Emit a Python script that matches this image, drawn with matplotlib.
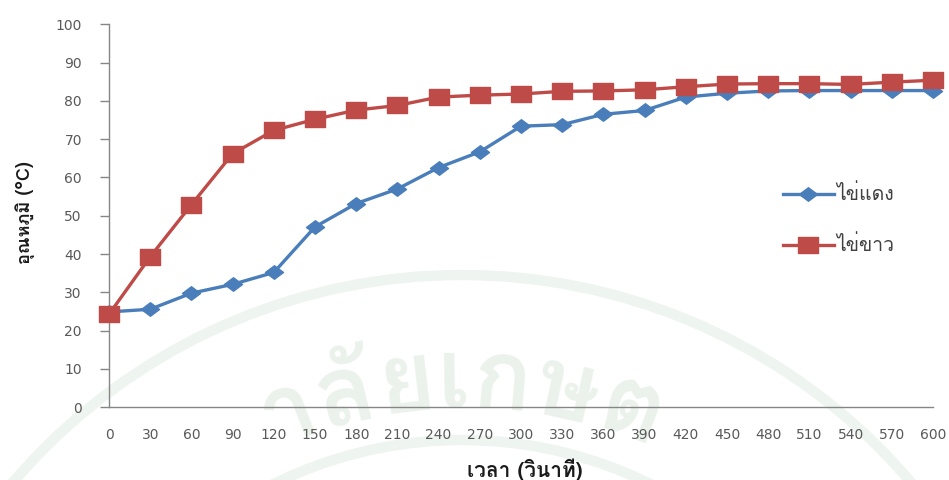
import matplotlib
matplotlib.use("Agg")
import matplotlib.pyplot as plt
from matplotlib import font_manager
from matplotlib.ft2font import FT2Font
from matplotlib.path import Path
from matplotlib.patches import Circle
import numpy as np

# Heating time (seconds) and core temperature (°C) of yolk and white
time_s = [0, 30, 60, 90, 120, 150, 180, 210, 240, 270, 300,
          330, 360, 390, 420, 450, 480, 510, 540, 570, 600]
yolk_temp = [24.9, 25.6, 29.8, 32.1, 35.2, 47.1, 53.2, 57.0, 62.6, 66.7, 73.4,
             73.8, 76.5, 77.5, 81.0, 82.0, 82.6, 82.7, 82.7, 82.7, 82.7]
white_temp = [24.3, 39.3, 52.9, 66.2, 72.3, 75.2, 77.6, 78.8, 81.0, 81.5, 81.8,
              82.5, 82.6, 82.9, 83.7, 84.4, 84.5, 84.5, 84.3, 84.9, 85.4]
x_tick_labels = [str(t) for t in time_s]
y_ticks = list(range(0, 101, 10))

series_names = ["ไข่แดง", "ไข่ขาว"]
x_title = "เวลา (วินาที)"
y_title = "อุณหภูมิ (°C)"

# background seal text, split into grapheme clusters
seal_clusters = ["ม", "ห", "า", "วิ", "ท", "ย", "า", "ลั", "ย", "เ", "ก",
                 "ษ", "ต", "ร", "ศ", "า", "ส", "ต", "ร์"]


def find_thai_font(bold=False):
    """Return the path of an installed font that has Thai glyphs."""
    found = []
    for fe in font_manager.fontManager.ttflist:
        try:
            ft = FT2Font(fe.fname)
            if ft.get_char_index(0x0E44) and ft.get_char_index(0x0E07) and ft.get_char_index(0x0E13):
                found.append(fe)
        except Exception:
            continue
    if not found:
        return None

    def score(fe):
        w = fe.weight if isinstance(fe.weight, int) else (700 if "bold" in str(fe.weight).lower() else 400)
        s = 0
        s += 0 if (w >= 600) == bold else 10
        s += 0 if fe.style == "normal" else 5
        return s
    found.sort(key=score)
    return found[0].fname


thai_regular = find_thai_font(False)
thai_bold = find_thai_font(True)


def thai_prop(size, bold=False):
    path = thai_bold if bold else thai_regular
    if path:
        return font_manager.FontProperties(fname=path, size=size)
    return font_manager.FontProperties(family="DejaVu Sans", size=size,
                                       weight="bold" if bold else "normal")


W, H = 949, 480
fig = plt.figure(figsize=(W / 100, H / 100), dpi=100)
fig.patch.set_facecolor("white")

# ---- faint seal in the background (pixel coordinates, y downwards) ----
bg = fig.add_axes([0, 0, 1, 1], zorder=0)
bg.set_xlim(0, W)
bg.set_ylim(H, 0)
bg.axis("off")
ring_color = "#eef4ef"
cx, cy = 462, 865
bg.add_patch(Circle((cx, cy), 590, fill=False, ec=ring_color, lw=7.5))
bg.add_patch(Circle((cx, cy), 425, fill=False, ec=ring_color, lw=7.5))

renderer = fig.canvas.get_renderer()
seal_prop = thai_prop(70, bold=True)
r_base = 457.0
gap = 0.0
widths = [renderer.get_text_width_height_descent(c, seal_prop, ismath=False)[0]
          for c in seal_clusters]
# arc position of each cluster centre; "เ" (index 9) sits near the top of the ring
arc_pos = []
s = 0.0
for w in widths:
    arc_pos.append(s + w / 2)
    s += w + gap
anchor = arc_pos[9]
for clus, a in zip(seal_clusters, arc_pos):
    phi = np.deg2rad(91.0) - (a - anchor) / r_base
    x = cx + r_base * np.cos(phi)
    y = cy - r_base * np.sin(phi)
    t = bg.text(x, y, clus, fontproperties=seal_prop, color="#ebf2ec",
                rotation=np.rad2deg(phi) - 90, rotation_mode="anchor",
                ha="center", va="baseline")
    bb = t.get_window_extent(renderer)
    if bb.x0 < 0 or bb.y0 < 0 or bb.x1 > W or bb.y1 > H:
        t.remove()

# ---- chart ----
left, right, top, bottom = 109, 933, 24.3, 407.3
ax = fig.add_axes([left / W, 1 - bottom / H, (right - left) / W, (bottom - top) / H],
                  zorder=1)
ax.set_facecolor("none")

blue = "#4a7ebb"
red = "#be4b48"

diamond = Path([(-1, 0), (0, 0.75), (1, 0), (0, -0.75), (-1, 0)],
               [Path.MOVETO, Path.LINETO, Path.LINETO, Path.LINETO, Path.CLOSEPOLY])
square = Path([(-1, -0.8), (1, -0.8), (1, 0.8), (-1, 0.8), (-1, -0.8)],
              [Path.MOVETO, Path.LINETO, Path.LINETO, Path.LINETO, Path.CLOSEPOLY])

ax.plot(time_s, yolk_temp, color=blue, lw=2.4, marker=diamond, ms=13,
        mfc=blue, mec=blue, label=series_names[0], clip_on=False, zorder=3)
ax.plot(time_s, white_temp, color=red, lw=2.4, marker=square, ms=14,
        mfc=red, mec=red, label=series_names[1], clip_on=False, zorder=4)

ax.set_xlim(0, 600)
ax.set_ylim(0, 100)
ax.set_xticks(time_s)
ax.set_xticklabels(x_tick_labels)
ax.set_yticks(y_ticks)

for side in ("top", "right"):
    ax.spines[side].set_visible(False)
for side in ("left", "bottom"):
    ax.spines[side].set_color("#868686")
    ax.spines[side].set_linewidth(1.0)

ax.tick_params(axis="y", length=6.5, width=1.0, color="#868686", pad=13,
               labelsize=10, labelcolor="#595959")
ax.tick_params(axis="x", length=0, pad=15, labelsize=10, labelcolor="#595959")
for lab in ax.get_xticklabels() + ax.get_yticklabels():
    lab.set_family("DejaVu Sans")

fig.text(525 / W, 1 - 470 / H, x_title, ha="center", va="center",
         fontproperties=thai_prop(15, bold=True), color="#1a1a1a")
fig.text(25 / W, 1 - 213 / H, y_title, ha="center", va="center", rotation=90,
         fontproperties=thai_prop(13, bold=True), color="#1a1a1a")

leg = ax.legend(loc="center left", bbox_to_anchor=(783 / W, 1 - 220 / H),
                bbox_transform=fig.transFigure, frameon=False,
                prop=thai_prop(14), handlelength=2.6, handletextpad=0.15,
                labelspacing=1.6, borderpad=0, borderaxespad=0)
for t in leg.get_texts():
    t.set_color("#404040")

fig.savefig("out.png", dpi=100)
